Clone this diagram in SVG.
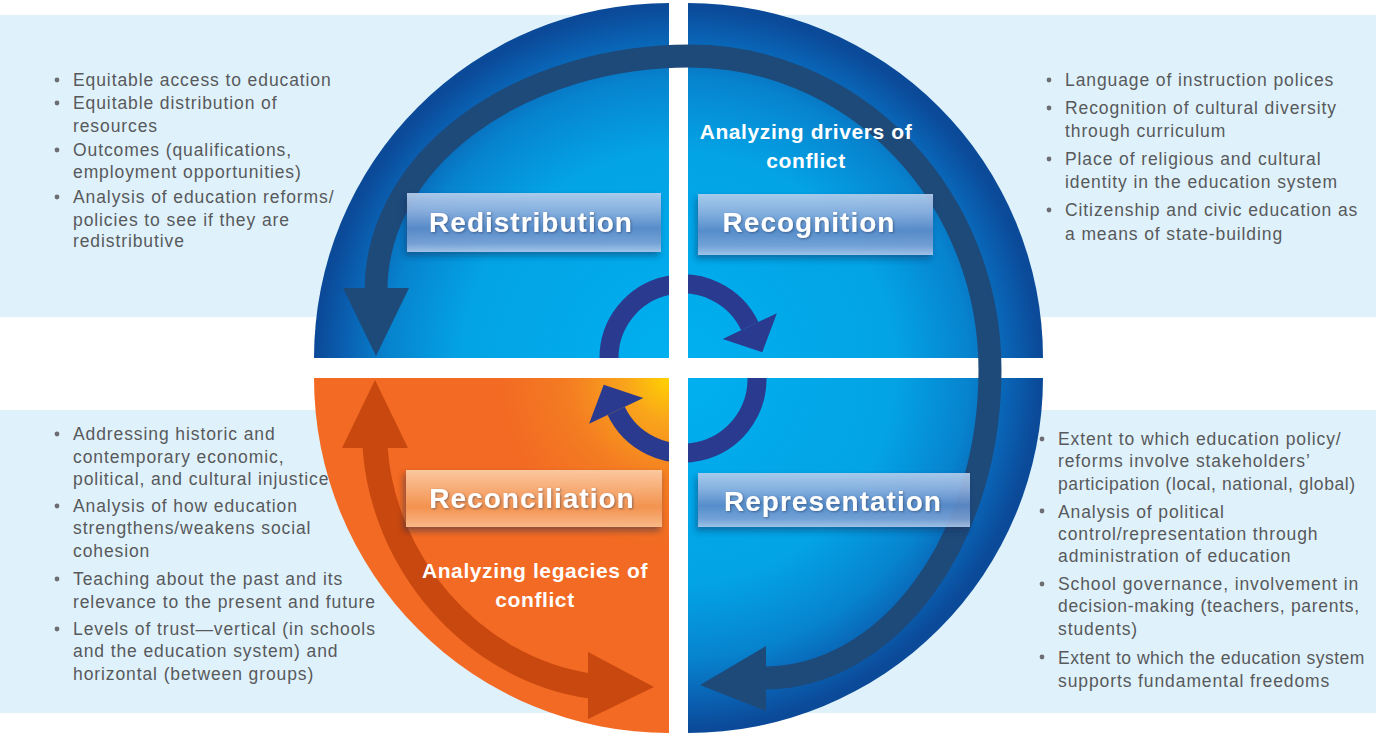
<svg xmlns="http://www.w3.org/2000/svg" width="1376" height="736" viewBox="0 0 1376 736">
<defs>
<style>
.panel{fill:#DFF2FB}
.bt{font-family:"Liberation Sans",Arial,sans-serif;font-size:17.5px;letter-spacing:0.9px;fill:#58595B}
.dot{fill:#6D6E71}
.lbl{font-family:"Liberation Sans",Arial,sans-serif;font-size:28px;font-weight:bold;letter-spacing:1px;fill:#FFFFFF;text-anchor:middle}
.sub{font-family:"Liberation Sans",Arial,sans-serif;font-size:21px;font-weight:bold;letter-spacing:0.6px;fill:#FFFFFF;text-anchor:middle}
.band{fill:none;stroke:#1E4A7A;stroke-width:23}
.cyc{fill:none;stroke:#2A3B8F;stroke-width:19}
.orb{fill:none;stroke:#C9480F;stroke-width:25}
</style>
<radialGradient id="gBlue" gradientUnits="userSpaceOnUse" cx="678" cy="368" r="362">
<stop offset="0" stop-color="#00B0F0"/>
<stop offset="0.6" stop-color="#03A3E5"/>
<stop offset="0.8" stop-color="#0784CE"/>
<stop offset="0.92" stop-color="#0A60B2"/>
<stop offset="1" stop-color="#0B4A98"/>
</radialGradient>
<radialGradient id="gOrange" gradientUnits="userSpaceOnUse" cx="669" cy="378" r="170">
<stop offset="0" stop-color="#FFD200"/>
<stop offset="0.25" stop-color="#F9A51B"/>
<stop offset="0.6" stop-color="#F47C22"/>
<stop offset="1" stop-color="#F26A23"/>
</radialGradient>
<linearGradient id="gBox" x1="0" y1="0" x2="0" y2="1">
<stop offset="0" stop-color="#B7CEEC"/>
<stop offset="0.3" stop-color="#93B2DF"/>
<stop offset="0.6" stop-color="#5F8BC8"/>
<stop offset="0.85" stop-color="#7EA2D5"/>
<stop offset="1" stop-color="#AFC7E8"/>
</linearGradient>
<linearGradient id="gBoxO" x1="0" y1="0" x2="0" y2="1">
<stop offset="0" stop-color="#FCCCA6"/>
<stop offset="0.35" stop-color="#F8AE78"/>
<stop offset="0.65" stop-color="#F49552"/>
<stop offset="1" stop-color="#FABD8E"/>
</linearGradient>
<filter id="shadow" x="-10%" y="-20%" width="125%" height="160%">
<feDropShadow dx="-2" dy="4" stdDeviation="3" flood-color="#0A2A55" flood-opacity="0.5"/>
</filter>
<filter id="tshadow" x="-5%" y="-20%" width="110%" height="150%">
<feDropShadow dx="1" dy="1" stdDeviation="1" flood-color="#1A3050" flood-opacity="0.5"/>
</filter>
</defs>

<g id="panels">
<rect class="panel" x="0" y="15" width="680" height="302"/>
<rect class="panel" x="680" y="15" width="696" height="302"/>
<rect class="panel" x="0" y="410" width="680" height="303"/>
<rect class="panel" x="680" y="410" width="696" height="303"/>
</g>

<g id="quadrants">
<path d="M669 358 L314 358 A355 355 0 0 1 669 3 Z" fill="url(#gBlue)"/>
<path d="M688 358 L688 3 A355 355 0 0 1 1043 358 Z" fill="url(#gBlue)"/>
<path d="M669 378 L669 733 A355 355 0 0 1 314 378 Z" fill="url(#gOrange)"/>
<path d="M688 378 L1043 378 A355 355 0 0 1 688 733 Z" fill="url(#gBlue)"/>
</g>

<g id="connectors">
<g id="cycle">
<path class="cyc" d="M609 362 L609 358 A74 74 0 0 1 749.8 326.1"/>
<polygon fill="#2A3B8F" points="776.9,313.2 722.7,339 762.3,352.3"/>
<path class="cyc" d="M757 374 L757 379 A74 74 0 0 1 616.2 410.9"/>
<polygon fill="#2A3B8F" points="589.1,423.8 643.3,398 603.7,384.7"/>
</g>
<g id="gaps">
<rect x="669" y="0" width="19" height="736" fill="#FFFFFF"/>
<rect x="300" y="358" width="760" height="20" fill="#FFFFFF"/>
</g>
<g id="outer-arrow">
<path class="band" d="M376 290 A314 234 0 0 1 690 56 A300 314 0 0 1 990 370 A226 308 0 0 1 766 678"/>
<polygon fill="#1E4A7A" points="343,288 409,288 376,356"/>
<polygon fill="#1E4A7A" points="766,646 766,711 700,685"/>
</g>
<g id="legacy-arrow">
<path class="orb" d="M375 446 C382 560 470 668 590 686"/>
<polygon fill="#C9480F" points="342,448 408,448 375,380"/>
<polygon fill="#C9480F" points="588,652 588,719 654,687"/>
</g>
</g>

<g id="redistribution">
<rect x="407" y="193" width="254" height="59" fill="url(#gBox)" opacity="0.92" filter="url(#shadow)"/>
<text class="lbl" x="531" y="232" filter="url(#tshadow)">Redistribution</text>
<g class="bt">
<text x="73" y="86">Equitable access to education</text>
<text x="73" y="109">Equitable distribution of</text>
<text x="73" y="131.5">resources</text>
<text x="73" y="156">Outcomes (qualifications,</text>
<text x="73" y="178">employment opportunities)</text>
<text x="73" y="203">Analysis of education reforms/</text>
<text x="73" y="225.5">policies to see if they are</text>
<text x="73" y="247">redistributive</text>
</g>
<g class="dot">
<circle cx="57" cy="80" r="2.4"/>
<circle cx="57" cy="103" r="2.4"/>
<circle cx="57" cy="150" r="2.4"/>
<circle cx="57" cy="197" r="2.4"/>
</g>
</g>

<g id="recognition">
<text class="sub" x="806" y="139">Analyzing drivers of</text>
<text class="sub" x="806" y="168">conflict</text>
<rect x="698" y="194" width="235" height="61" fill="url(#gBox)" opacity="0.9" filter="url(#shadow)"/>
<text class="lbl" x="809" y="232" filter="url(#tshadow)">Recognition</text>
<g class="bt">
<text x="1065" y="86">Language of instruction polices</text>
<text x="1065" y="114">Recognition of cultural diversity</text>
<text x="1065" y="137">through curriculum</text>
<text x="1065" y="165">Place of religious and cultural</text>
<text x="1065" y="188">identity in the education system</text>
<text x="1065" y="216">Citizenship and civic education as</text>
<text x="1065" y="240">a means of state-building</text>
</g>
<g class="dot">
<circle cx="1049" cy="80" r="2.4"/>
<circle cx="1049" cy="108" r="2.4"/>
<circle cx="1049" cy="159" r="2.4"/>
<circle cx="1049" cy="210" r="2.4"/>
</g>
</g>

<g id="reconciliation">
<rect x="406" y="470" width="256" height="57" fill="url(#gBoxO)" opacity="0.95" filter="url(#shadow)"/>
<text class="lbl" x="532" y="508" filter="url(#tshadow)">Reconciliation</text>
<text class="sub" x="535" y="578">Analyzing legacies of</text>
<text class="sub" x="535" y="607">conflict</text>
<g class="bt">
<text x="73" y="440">Addressing historic and</text>
<text x="73" y="462.5">contemporary economic,</text>
<text x="73" y="485">political, and cultural injustice</text>
<text x="73" y="512">Analysis of how education</text>
<text x="73" y="534">strengthens/weakens social</text>
<text x="73" y="556.5">cohesion</text>
<text x="73" y="585">Teaching about the past and its</text>
<text x="73" y="607.5">relevance to the present and future</text>
<text x="73" y="635">Levels of trust—vertical (in schools</text>
<text x="73" y="657">and the education system) and</text>
<text x="73" y="679.5">horizontal (between groups)</text>
</g>
<g class="dot">
<circle cx="57" cy="434" r="2.4"/>
<circle cx="57" cy="506" r="2.4"/>
<circle cx="57" cy="579" r="2.4"/>
<circle cx="57" cy="629" r="2.4"/>
</g>
</g>

<g id="representation">
<rect x="698" y="473" width="272" height="54" fill="url(#gBox)" opacity="0.9" filter="url(#shadow)"/>
<text class="lbl" x="833" y="511" filter="url(#tshadow)">Representation</text>
<g class="bt">
<text x="1058" y="445">Extent to which education policy/</text>
<text x="1058" y="467">reforms involve stakeholders’</text>
<text x="1058" y="489.5" letter-spacing="0.6">participation (local, national, global)</text>
<text x="1058" y="517.5">Analysis of political</text>
<text x="1058" y="540">control/representation through</text>
<text x="1058" y="562">administration of education</text>
<text x="1058" y="590">School governance, involvement in</text>
<text x="1058" y="612" letter-spacing="0.7">decision-making (teachers, parents,</text>
<text x="1058" y="635">students)</text>
<text x="1058" y="663.5" letter-spacing="0.5">Extent to which the education system</text>
<text x="1058" y="687">supports fundamental freedoms</text>
</g>
<g class="dot">
<circle cx="1042" cy="439" r="2.4"/>
<circle cx="1042" cy="511" r="2.4"/>
<circle cx="1042" cy="584" r="2.4"/>
<circle cx="1042" cy="657" r="2.4"/>
</g>
</g>
</svg>
